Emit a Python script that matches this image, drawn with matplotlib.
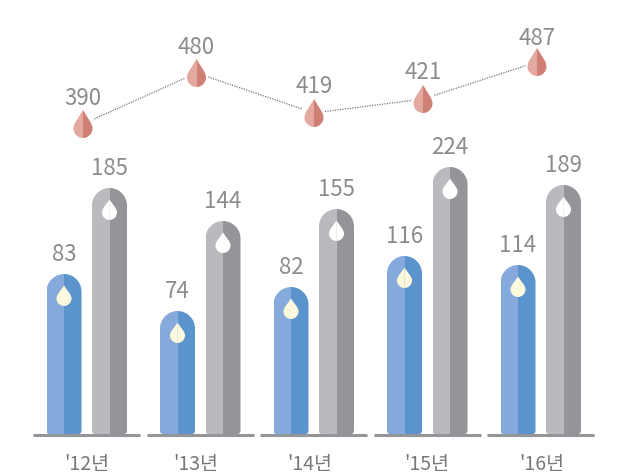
import matplotlib
matplotlib.use('Agg')
import matplotlib.pyplot as plt
from matplotlib.path import Path
from matplotlib.patches import PathPatch

plt.rcParams['font.family'] = ['Noto Sans CJK KR', 'DejaVu Sans']

years = ["'12년", "'13년", "'14년", "'15년", "'16년"]

# printed numbers
blue_labels = [83, 74, 82, 116, 114]
grey_labels = [185, 144, 155, 224, 189]
line_labels = [390, 480, 419, 421, 487]

# drawn heights in the picture (they do not follow the printed numbers)
blue_heights = [160, 123, 147, 178, 169]
grey_heights = [246, 213, 225, 267, 249]
line_heights = [310, 361, 321, 335, 372]

BLUE_L, BLUE_R = '#86aadb', '#5b93cd'
GREY_L, GREY_R = '#b9babe', '#939598'
DROP_L, DROP_R = '#e3a9a0', '#cf7f74'
TEXT = '#8a8c8f'


def bar_outline(x0, x1, h):
    # round top, small rounded feet
    r = (x1 - x0) / 2
    k = 0.55 * r
    f = 3
    verts = [(x0 + f, 0), (x0, 0), (x0, f), (x0, h - r),
             (x0, h - r + k), (x0 + r - k, h), (x0 + r, h),
             (x0 + r + k, h), (x1, h - r + k), (x1, h - r),
             (x1, f), (x1, 0), (x1 - f, 0), (x0 + f, 0)]
    codes = [Path.MOVETO, Path.CURVE3, Path.CURVE3, Path.LINETO,
             Path.CURVE4, Path.CURVE4, Path.CURVE4,
             Path.CURVE4, Path.CURVE4, Path.CURVE4, Path.LINETO,
             Path.CURVE3, Path.CURVE3, Path.CLOSEPOLY]
    return Path(verts, codes)


def round_bar(ax, cx, h, w, left, right):
    outline = PathPatch(bar_outline(cx - w / 2, cx + w / 2, h), fc='none', ec='none')
    ax.add_patch(outline)
    for bars in (ax.bar(cx - w / 4, h, w / 2, color=left),
                 ax.bar(cx + w / 4, h, w / 2, color=right)):
        for b in bars:
            b.set_clip_path(outline)


def drop(ax, cx, cy, w, h, left, right):
    # cy is the centre of the round belly, tip points up
    r = w / 2
    tip = cy + h - r
    k = 0.55 * r
    for side, col in ((-1, left), (1, right)):
        verts = [(cx, tip), (cx + side * r * 0.5, tip - (h - r) * 0.45),
                 (cx + side * r, cy + k), (cx + side * r, cy),
                 (cx + side * r, cy - k), (cx + side * k, cy - r), (cx, cy - r),
                 (cx, tip)]
        codes = [Path.MOVETO, Path.CURVE4, Path.CURVE4, Path.CURVE4,
                 Path.CURVE4, Path.CURVE4, Path.CURVE4, Path.CLOSEPOLY]
        ax.add_patch(PathPatch(Path(verts, codes), fc=col, ec='none', zorder=5))


fig = plt.figure(figsize=(6.25, 4.73), dpi=100)
ax = fig.add_axes([0, 0, 1, 1])
ax.set_xlim(0, 625)
ax.set_ylim(-39, 434)
ax.axis('off')

bw = 35
year_x = [87, 196, 310, 427, 542]
for i, year in enumerate(years):
    c = 86.75 + 113.5 * i
    bx = c - 22.75
    gx = c + 22.75

    round_bar(ax, bx, blue_heights[i], bw, BLUE_L, BLUE_R)
    round_bar(ax, gx, grey_heights[i], bw, GREY_L, GREY_R)

    drop(ax, bx, blue_heights[i] - 24.5, 15, 20.5, '#fdf9dc', '#fdf9dc')
    drop(ax, gx, grey_heights[i] - 24.5, 15, 20.5, 'white', 'white')

    ax.text(bx, blue_heights[i] + 8, str(blue_labels[i]), ha='center', va='bottom',
            color=TEXT, fontsize=16)
    ax.text(gx, grey_heights[i] + 8, str(grey_labels[i]), ha='center', va='bottom',
            color=TEXT, fontsize=16)

    ax.plot([c - 53.5, c + 53.5], [-0.5, -0.5], color='#939598', lw=2.2,
            solid_capstyle='butt', zorder=4)
    ax.text(year_x[i], -30, year, ha='center', va='center', color='#77787b', fontsize=14)

# dotted line between drops, gaps left around each drop
line_x = [83, 196.5, 314, 423, 537]
for i in range(4):
    dx = line_x[i + 1] - line_x[i]
    dy = line_heights[i + 1] - line_heights[i]
    ax.plot([line_x[i] + dx * 0.1, line_x[i + 1] - dx * 0.1],
            [line_heights[i] + dy * 0.1, line_heights[i + 1] - dy * 0.1],
            color='#77787b', lw=0.9, ls=(0, (1, 1)))

label_rise = [14, 14, 15, 15, 12]
for x, h, v, rise in zip(line_x, line_heights, line_labels, label_rise):
    drop(ax, x, h - 4.5, 19, 28, DROP_L, DROP_R)
    ax.text(x, h + rise, str(v), ha='center', va='bottom', color=TEXT, fontsize=16)

fig.savefig('out.png', dpi=100)
